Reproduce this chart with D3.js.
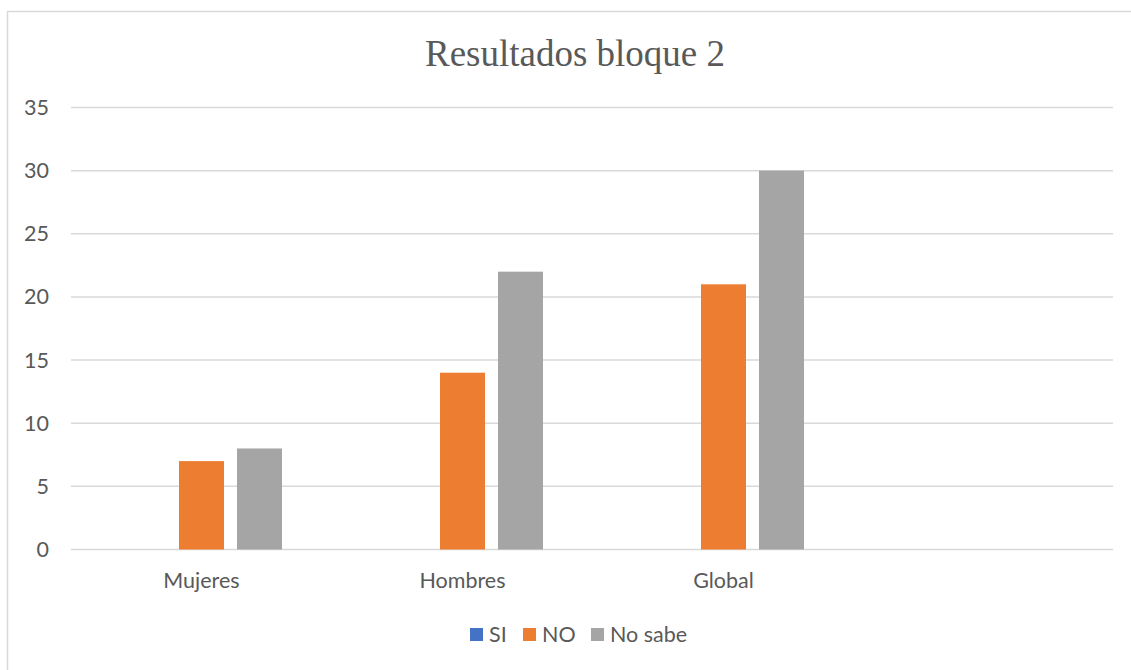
<!DOCTYPE html>
<html>
<head>
<meta charset="utf-8">
<script src="https://cdn.jsdelivr.net/npm/d3@7"></script>
<style>
  html, body { margin: 0; padding: 0; background: #fff; }
  svg { display: block; }
</style>
</head>
<body>
<svg id="svg" width="1131" height="670"></svg>
<script>
const categories = ["Mujeres", "Hombres", "Global", ""];
const seriesNames = ["SI", "NO", "No sabe"];
const siValues = [0, 0, 0, null];
const noValues = [7, 14, 21, null];
const noSabeValues = [8, 22, 30, null];
const yTicks = [0, 5, 10, 15, 20, 25, 30, 35];
const colors = ["#4472C4", "#ED7D31", "#A5A5A5"];

const seriesValues = [siValues, noValues, noSabeValues];

const svg = d3.select("#svg");
const textColor = "#595959";
const labelFont = "Lato, 'Open Sans', sans-serif";
const labelSize = "21.5px";

// chart frame (runs off the right and bottom edge)
svg.append("rect")
    .attr("x", 7.5).attr("y", 11.5)
    .attr("width", 1140).attr("height", 680)
    .attr("fill", "#fff")
    .attr("stroke", "#D9D9D9")
    .attr("stroke-width", 1.5);

const plotLeft = 71, plotRight = 1113;

const y = d3.scaleLinear().domain([0, 35]).range([549.5, 107.5]);

const x0 = d3.scaleBand()
    .domain(categories.map((c, i) => i))
    .range([plotLeft, plotLeft + 1044])
    .paddingInner(100 / 261)
    .paddingOuter(50 / 261);

const x1 = d3.scaleBand()
    .domain(seriesNames)
    .range([0, x0.bandwidth()])
    .paddingInner(13 / 58);

// grid
svg.append("g")
    .selectAll("line")
    .data(yTicks)
    .join("line")
    .attr("x1", plotLeft).attr("x2", plotRight)
    .attr("y1", d => y(d)).attr("y2", d => y(d))
    .attr("stroke", "#D9D9D9")
    .attr("stroke-width", 1.5);

// y labels
svg.append("g")
    .selectAll("text")
    .data(yTicks)
    .join("text")
    .attr("x", 49)
    .attr("y", d => y(d))
    .attr("dy", "0.35em")
    .attr("text-anchor", "end")
    .attr("fill", textColor)
    .style("font-family", labelFont)
    .style("font-size", labelSize)
    .text(d => d);

// bars
const groups = svg.append("g")
    .selectAll("g")
    .data(categories.map((c, i) => i))
    .join("g")
    .attr("transform", i => `translate(${x0(i)},0)`);

groups.selectAll("rect")
    .data(i => seriesNames.map((s, k) => ({ s, k, v: seriesValues[k][i] }))
        .filter(d => d.v !== null))
    .join("rect")
    .attr("x", d => x1(d.s))
    .attr("width", x1.bandwidth())
    .attr("y", d => y(d.v))
    .attr("height", d => y(0) - y(d.v))
    .attr("fill", d => colors[d.k]);

// x labels
svg.append("g")
    .selectAll("text")
    .data(categories)
    .join("text")
    .attr("x", (c, i) => x0(i) + x0.bandwidth() / 2)
    .attr("y", 588)
    .attr("text-anchor", "middle")
    .attr("fill", textColor)
    .style("font-family", labelFont)
    .style("font-size", labelSize)
    .text(d => d);

// title
svg.append("text")
    .attr("x", 575)
    .attr("y", 66)
    .attr("text-anchor", "middle")
    .attr("fill", textColor)
    .style("font-family", "'Liberation Serif', 'Times New Roman', serif")
    .style("font-size", "37px")
    .text("Resultados bloque 2");

// legend
const legendX = [470, 523, 591];
const legend = svg.append("g")
    .selectAll("g")
    .data(seriesNames)
    .join("g")
    .attr("transform", (d, i) => `translate(${legendX[i]},628)`);

legend.append("rect")
    .attr("width", 13).attr("height", 13)
    .attr("fill", (d, i) => colors[i]);

legend.append("text")
    .attr("x", 19)
    .attr("y", 14)
    .attr("fill", textColor)
    .style("font-family", labelFont)
    .style("font-size", labelSize)
    .text(d => d);
</script>
</body>
</html>
